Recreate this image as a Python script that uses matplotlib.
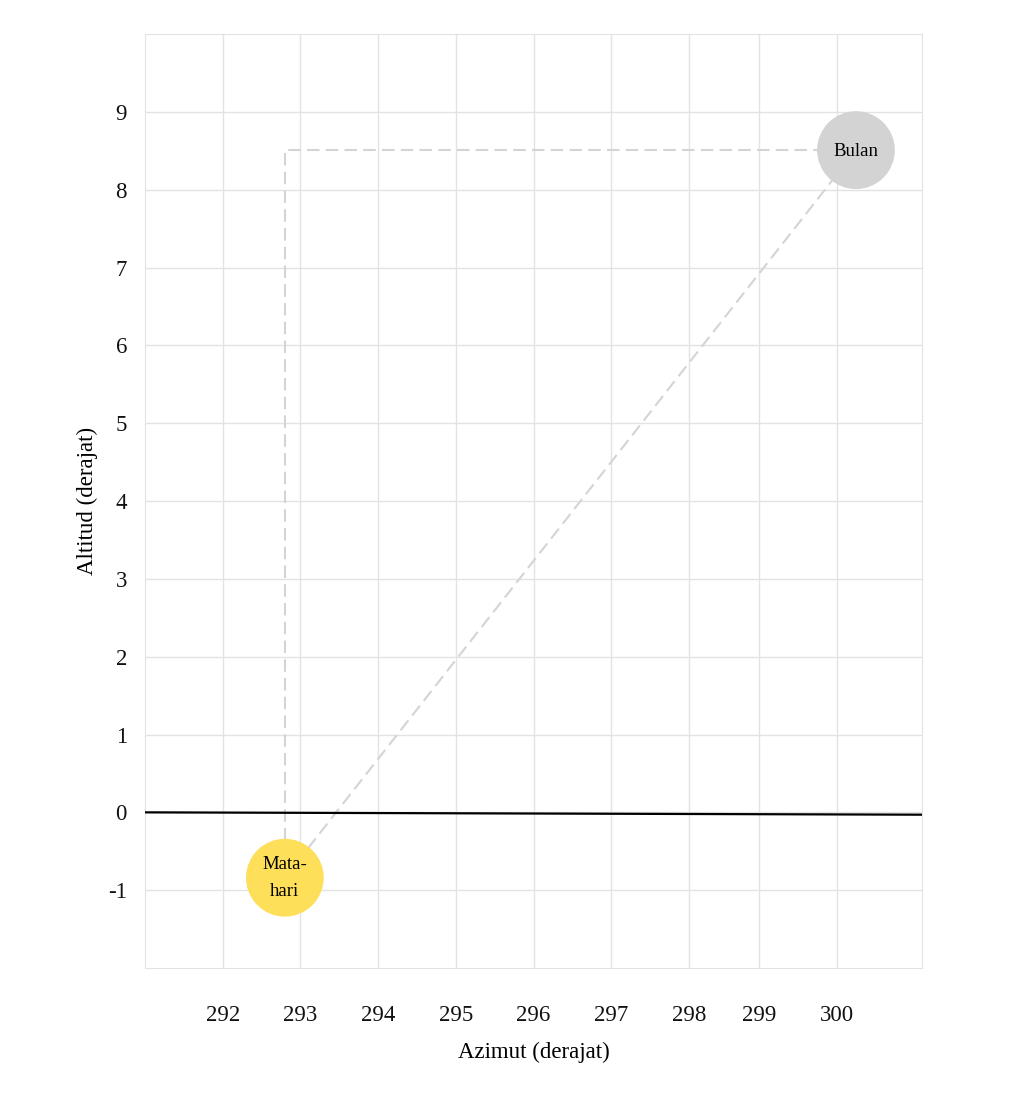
import numpy as np
import matplotlib.pyplot as plt
from matplotlib.patches import Circle

# datos de posición (grados)
sun_az, sun_alt = 292.8, -0.84
moon_az, moon_alt = 300.15, 8.51
body_radius = 0.5
horizon_az = [291, 301]
horizon_alt = [0.0, -0.03]

x_tick_pos = [292, 293, 294, 295, 296, 297, 298, 298.9, 299.9]
x_tick_labels = ['292', '293', '294', '295', '296', '297', '298', '299', '300']
y_ticks = [-1, 0, 1, 2, 3, 4, 5, 6, 7, 8, 9]

plt.rcParams['font.family'] = ['Liberation Serif', 'DejaVu Serif']
plt.rcParams['axes.unicode_minus'] = False

fig = plt.figure(figsize=(10.24, 10.96), dpi=100)
ax = fig.add_axes([0.1416, 0.1168, 0.7588, 0.852])
ax.set_xlim(291, 301)
ax.set_ylim(-2, 10)

# rejilla
ax.set_xticks(x_tick_pos)
ax.set_xticklabels(x_tick_labels)
ax.set_yticks(y_ticks)
ax.grid(True, color='#e3e3e3', linewidth=1)
ax.set_axisbelow(True)
for s in ax.spines.values():
    s.set_color('#e3e3e3')
ax.tick_params(length=0, labelsize=16.5, colors='#111111')
ax.tick_params(axis='x', pad=27)
ax.tick_params(axis='y', pad=13)

# horizonte
ax.plot(horizon_az, horizon_alt, color='black', linewidth=1.6, zorder=3)

# líneas guía
dash = dict(color='#d4d4d4', linewidth=1.5, dashes=(6, 3), zorder=2)
ax.plot([sun_az, sun_az, moon_az], [sun_alt, moon_alt, moon_alt], **dash)
ax.plot([sun_az, moon_az], [sun_alt, moon_alt], **dash)

# cuerpos
ax.add_patch(Circle((sun_az, sun_alt), body_radius,
                    facecolor='#fddf5a', edgecolor='none', zorder=4))
ax.add_patch(Circle((moon_az, moon_alt), body_radius,
                    facecolor='#d3d3d3', edgecolor='none', zorder=4))
ax.text(sun_az, sun_alt, 'Mata-\nhari', ha='center', va='center',
        fontsize=13.5, linespacing=1.75, zorder=5)
ax.text(moon_az, moon_alt - 0.02, 'Bulan', ha='center', va='center',
        fontsize=13.5, zorder=5)

ax.set_xlabel('Azimut (derajat)', fontsize=16.5, labelpad=11)
ax.set_ylabel('Altitud (derajat)', fontsize=16.5, labelpad=7)

fig.savefig('out.png', dpi=100)
